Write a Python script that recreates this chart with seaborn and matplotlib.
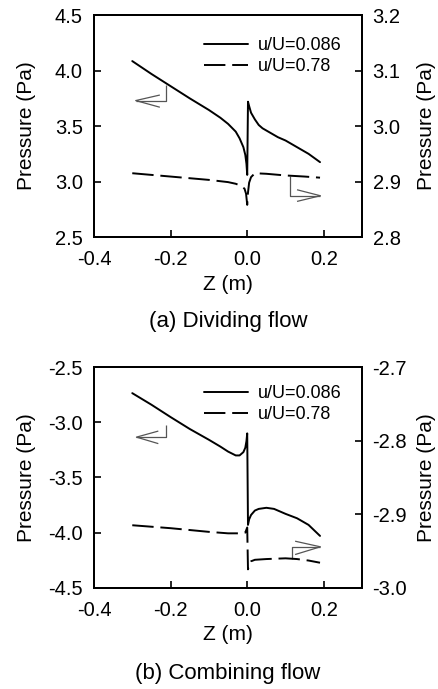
import numpy as np
import pandas as pd
import seaborn as sns
import matplotlib.pyplot as plt
from matplotlib.lines import Line2D

# (a) dividing flow, u/U=0.086 -> left axis
div_z_low = [-0.30, -0.25, -0.20, -0.15, -0.10, -0.07, -0.05, -0.03, -0.02, -0.01,
             -0.005, -0.002, 0.0, 0.002, 0.005, 0.01, 0.02, 0.03, 0.04, 0.06,
             0.08, 0.10, 0.13, 0.16, 0.19]
div_p_low = [4.086, 3.97, 3.86, 3.75, 3.645, 3.575, 3.52, 3.45, 3.39, 3.31,
             3.24, 3.16, 3.06, 3.72, 3.68, 3.62, 3.56, 3.51, 3.48, 3.44,
             3.40, 3.37, 3.31, 3.25, 3.175]
# (a) dividing flow, u/U=0.78 -> right axis
div_z_high = [-0.30, -0.20, -0.10, -0.05, -0.03, -0.015, -0.007, -0.003, 0.0,
              0.002, 0.005, 0.01, 0.02, 0.05, 0.10, 0.15, 0.19]
div_p_high = [2.915, 2.909, 2.903, 2.899, 2.896, 2.892, 2.887, 2.878, 2.858,
              2.880, 2.898, 2.908, 2.915, 2.914, 2.911, 2.909, 2.907]

# (b) combining flow, u/U=0.086 -> left axis
com_z_low = [-0.30, -0.25, -0.20, -0.15, -0.10, -0.07, -0.05, -0.03, -0.02, -0.01,
             -0.005, -0.002, 0.0, 0.002, 0.005, 0.01, 0.02, 0.03, 0.05, 0.07,
             0.10, 0.13, 0.16, 0.19]
com_p_low = [-2.735, -2.84, -2.952, -3.06, -3.158, -3.22, -3.265, -3.30, -3.30, -3.27,
             -3.23, -3.17, -3.10, -3.93, -3.88, -3.84, -3.80, -3.785, -3.775, -3.785,
             -3.83, -3.87, -3.93, -4.03]
# (b) combining flow, u/U=0.78 -> right axis
com_z_high = [-0.30, -0.20, -0.10, -0.05, -0.02, -0.005, 0.0, 0.002, 0.005, 0.01,
              0.02, 0.05, 0.10, 0.13, 0.16, 0.19]
com_p_high = [-2.915, -2.919, -2.924, -2.926, -2.926, -2.925, -2.918, -2.975, -2.968,
              -2.964, -2.962, -2.961, -2.960, -2.961, -2.963, -2.966]

legend_labels = ['u/U=0.086', 'u/U=0.78']

# axis-pointer arrows, in left-axis data units:
# (corner x, start y, corner y, tip x, barb x, barb y1, barb y2)
div_arrow_left = (-0.213, 3.87, 3.73, -0.291, -0.228, 3.78, 3.67)
div_arrow_right = (0.112, 3.046, 2.872, 0.191, 0.130, 2.926, 2.821)
com_arrow_left = (-0.211, -3.02, -3.134, -0.289, -0.232, -3.079, -3.193)
com_arrow_right = (0.117, -4.235, -4.129, 0.191, 0.125, -4.078, -4.199)

sns.set_style('ticks')
plt.rcParams['font.family'] = ['Liberation Sans', 'DejaVu Sans']
plt.rcParams.update({
    'axes.linewidth': 1.4,
    'axes.edgecolor': 'black',
    'axes.labelcolor': 'black',
    'text.color': 'black',
    'xtick.color': 'black',
    'ytick.color': 'black',
})

DASH = (11, 3.5)
LW = 1.4


def draw_arrow(ax, spec):
    xc, y0, y1, xt, xb, yb1, yb2 = spec
    kw = dict(color='#555555', lw=0.9, solid_capstyle='butt')
    ax.plot([xc, xc, xt], [y0, y1, y1], **kw)
    ax.plot([xb, xt, xb], [yb1, y1, yb2], **kw)


def draw_panel(fig, rect, z_low, p_low, z_high, p_high, ylim_l, ylim_r,
               ticks_l, ticks_r, arrows, legend_y, caption, caption_y):
    ax = fig.add_axes(rect)
    ax2 = ax.twinx()
    sns.lineplot(x=z_low, y=p_low, ax=ax, color='black', lw=LW, sort=False)
    sns.lineplot(x=z_high, y=p_high, ax=ax2, color='black', lw=LW, sort=False,
                 linestyle=(0, DASH))
    for a in arrows:
        draw_arrow(ax, a)

    ax.set_xlim(-0.4, 0.3)
    ax.set_xticks([-0.4, -0.2, 0.0, 0.2, 0.3])
    ax.set_xticklabels(['-0.4', '-0.2', '0.0', '0.2', ''])
    ax.set_ylim(*ylim_l)
    ax.set_yticks(ticks_l)
    ax.set_yticklabels([f'{t:.1f}' for t in ticks_l])
    ax2.set_ylim(*ylim_r)
    ax2.set_yticks(ticks_r)
    ax2.set_yticklabels([f'{t:.1f}' for t in ticks_r])

    for a in (ax, ax2):
        a.tick_params(direction='in', length=5, width=1.2, labelsize=14.5,
                      colors='black')
        for s in a.spines.values():
            s.set_visible(True)
            s.set_linewidth(1.4)
            s.set_color('black')
    ax.tick_params(top=False, right=False)
    ax.tick_params(axis='x', pad=9.5)
    ax.tick_params(axis='y', pad=8)
    ax2.tick_params(left=False, right=True, pad=7.5)

    ax.set_xlabel('Z (m)', fontsize=15, labelpad=4)
    ax.set_ylabel('Pressure (Pa)', fontsize=15)
    ax2.set_ylabel('Pressure (Pa)', fontsize=15)
    ax.yaxis.set_label_coords(-0.215, 0.5)
    ax2.yaxis.set_label_coords(1.205, 0.5)

    handles = [Line2D([], [], color='black', lw=LW),
               Line2D([], [], color='black', lw=LW, linestyle=(0, DASH))]
    ax2.legend(handles, legend_labels, loc='upper left',
               bbox_to_anchor=(0.41, legend_y), frameon=False, fontsize=13,
               handlelength=2.45, handletextpad=0.55, labelspacing=0.2,
               borderaxespad=0, borderpad=0)
    fig.text(0.519, caption_y, caption, ha='center', va='center', fontsize=16)
    return ax


fig = plt.figure(figsize=(4.39, 6.89), dpi=100)
draw_panel(fig, [0.214, 0.656, 0.611, 0.322], div_z_low, div_p_low,
           div_z_high, div_p_high, (2.5, 4.5), (2.8, 3.2),
           [2.5, 3.0, 3.5, 4.0, 4.5], [2.8, 2.9, 3.0, 3.1, 3.2],
           [div_arrow_left, div_arrow_right], 0.90, '(a) Dividing flow', 0.533)
draw_panel(fig, [0.214, 0.147, 0.611, 0.320], com_z_low, com_p_low,
           com_z_high, com_p_high, (-4.5, -2.5), (-3.0, -2.7),
           [-4.5, -4.0, -3.5, -3.0, -2.5], [-3.0, -2.9, -2.8, -2.7],
           [com_arrow_left, com_arrow_right], 0.918, '(b) Combining flow', 0.023)

fig.savefig('out.png', dpi=100)
